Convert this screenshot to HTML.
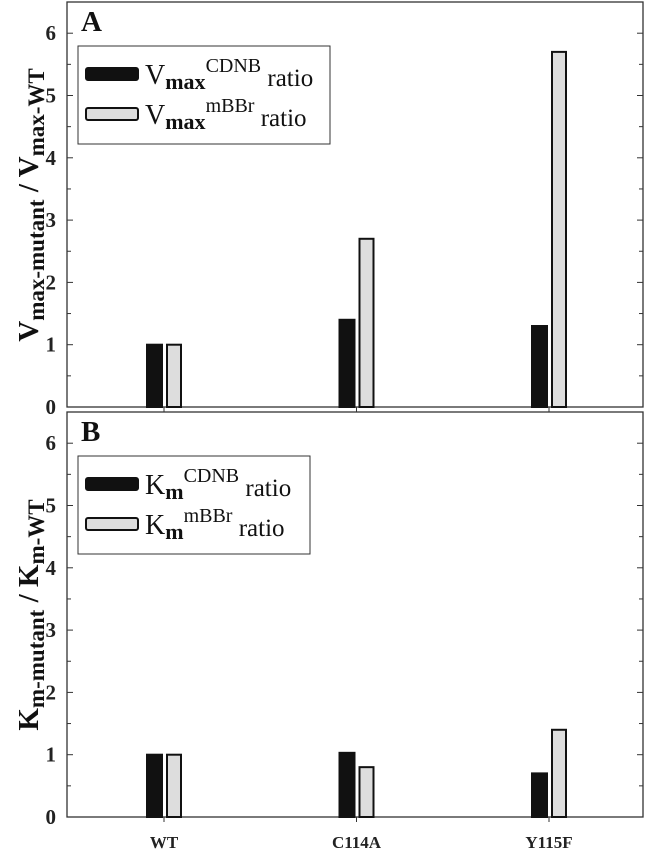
<!DOCTYPE html>
<html><head><meta charset="utf-8"><style>
html,body{margin:0;padding:0;background:#fff;}
svg{display:block;font-family:"Liberation Serif",serif;}
svg text, svg tspan{font-family:"Liberation Serif",serif;}
</style></head><body>
<svg id="chart" width="649" height="853" viewBox="0 0 649 853"></svg>
<script>
const categories = ["WT", "C114A", "Y115F"];
const vmaxCDNB = [1.0, 1.4, 1.3];
const vmaxMBBr = [1.0, 2.7, 5.7];
const kmCDNB = [1.0, 1.03, 0.7];
const kmMBBr = [1.0, 0.8, 1.4];
const yTicks = [0, 1, 2, 3, 4, 5, 6];

const NS = "http://www.w3.org/2000/svg";
const svg = document.getElementById("chart");
function el(tag, attrs, parent) {
  const e = document.createElementNS(NS, tag);
  for (const k in attrs) e.setAttribute(k, attrs[k]);
  (parent || svg).appendChild(e);
  return e;
}
function span(parent, txt, attrs) {
  const s = el("tspan", attrs, parent);
  s.textContent = txt;
  return s;
}
const X0 = 67, X1 = 643, PER = 62.3;
function xScale(i) { return 164 + i * 192.5; }

function panel(top, zero, label, sym, titleY, seriesA, seriesB, name) {
  const g = el("g", {});
  
  
  const y = v => zero - v * PER;
  const frame = el("rect", {x: X0, y: top, width: X1 - X0, height: zero - top, fill: "none", stroke: "#333", "stroke-width": 1.3}, g);
  
  
  for (let k = 0; k <= 12; k++) {
    const v = k / 2, yy = y(v), len = k % 2 === 0 ? 6 : 4;
    if (yy < top + 2) continue;
    el("line", {x1: X0, x2: X0 + len, y1: yy, y2: yy, stroke: "#333", "stroke-width": 1}, g);
    el("line", {x1: X1 - len, x2: X1, y1: yy, y2: yy, stroke: "#333", "stroke-width": 1}, g);
  }
  yTicks.forEach(t => {
    const tx = el("text", {x: 56, y: y(t) + 7, "text-anchor": "end", "font-size": 21, "font-weight": "bold", fill: "#222"}, g);
    tx.textContent = t;
    
    
  });
  categories.forEach((c, i) => {
    const cx = xScale(i);
    el("line", {x1: cx, x2: cx, y1: zero, y2: zero + 5, stroke: "#333", "stroke-width": 1}, g);
    const b1 = el("rect", {x: cx - 17, y: y(seriesA[i]), width: 15, height: seriesA[i] * PER, fill: "#111", stroke: "#111", "stroke-width": 2}, g);
    
    
    const b2 = el("rect", {x: cx + 3, y: y(seriesB[i]), width: 14, height: seriesB[i] * PER, fill: "#ddd", stroke: "#111", "stroke-width": 2}, g);
    
    
  });
  const pl = el("text", {x: 81, y: top + 29, "font-size": 29, "font-weight": "bold", fill: "#111"}, g);
  pl.textContent = label;
  
  
  const lt = top + 44, lw = label === "A" ? 252 : 232;
  const lg = el("g", {}, g);
  
  
  el("rect", {x: 78, y: lt, width: lw, height: 98, fill: "#fff", stroke: "#333", "stroke-width": 1}, lg);
  el("rect", {x: 86, y: lt + 22, width: 52, height: 12, rx: 2, fill: "#111", stroke: "#111", "stroke-width": 2}, lg);
  el("rect", {x: 86, y: lt + 62, width: 52, height: 12, rx: 2, fill: "#ddd", stroke: "#111", "stroke-width": 2}, lg);
  const sub = sym === "V" ? "max" : "m";
  [["CDNB", lt + 38], ["mBBr", lt + 78]].forEach(([sup, by]) => {
    const t = el("text", {x: 145, y: by, "font-size": 28, fill: "#111"}, lg);
    
    
    span(t, sym, {});
    span(t, sub, {"font-size": 22, "font-weight": "bold", dy: 5});
    span(t, sup, {"font-size": 20, dy: -17});
    span(t, " ratio", {"font-size": 25, dy: 14});
  });
  const yt = el("text", {transform: `translate(38 ${titleY}) rotate(-90)`, "text-anchor": "middle", "font-size": 29, "font-weight": "bold", fill: "#111"}, g);
  
  
  span(yt, sym, {});
  span(yt, sub + "-mutant", {"font-size": 23, dy: 6});
  span(yt, " / " + sym, {dy: -6});
  span(yt, sub + "-WT", {"font-size": 23, dy: 6});
}
panel(2, 407, "A", "V", 205, vmaxCDNB, vmaxMBBr, "panel-a-vmax");
panel(412, 817, "B", "K", 615, kmCDNB, kmMBBr, "panel-b-km");
categories.forEach((c, i) => {
  const t = el("text", {x: xScale(i), y: 848, "text-anchor": "middle", "font-size": 17, "font-weight": "bold", fill: "#222"});
  t.textContent = c;
  
  
});
</script>
</body></html>
